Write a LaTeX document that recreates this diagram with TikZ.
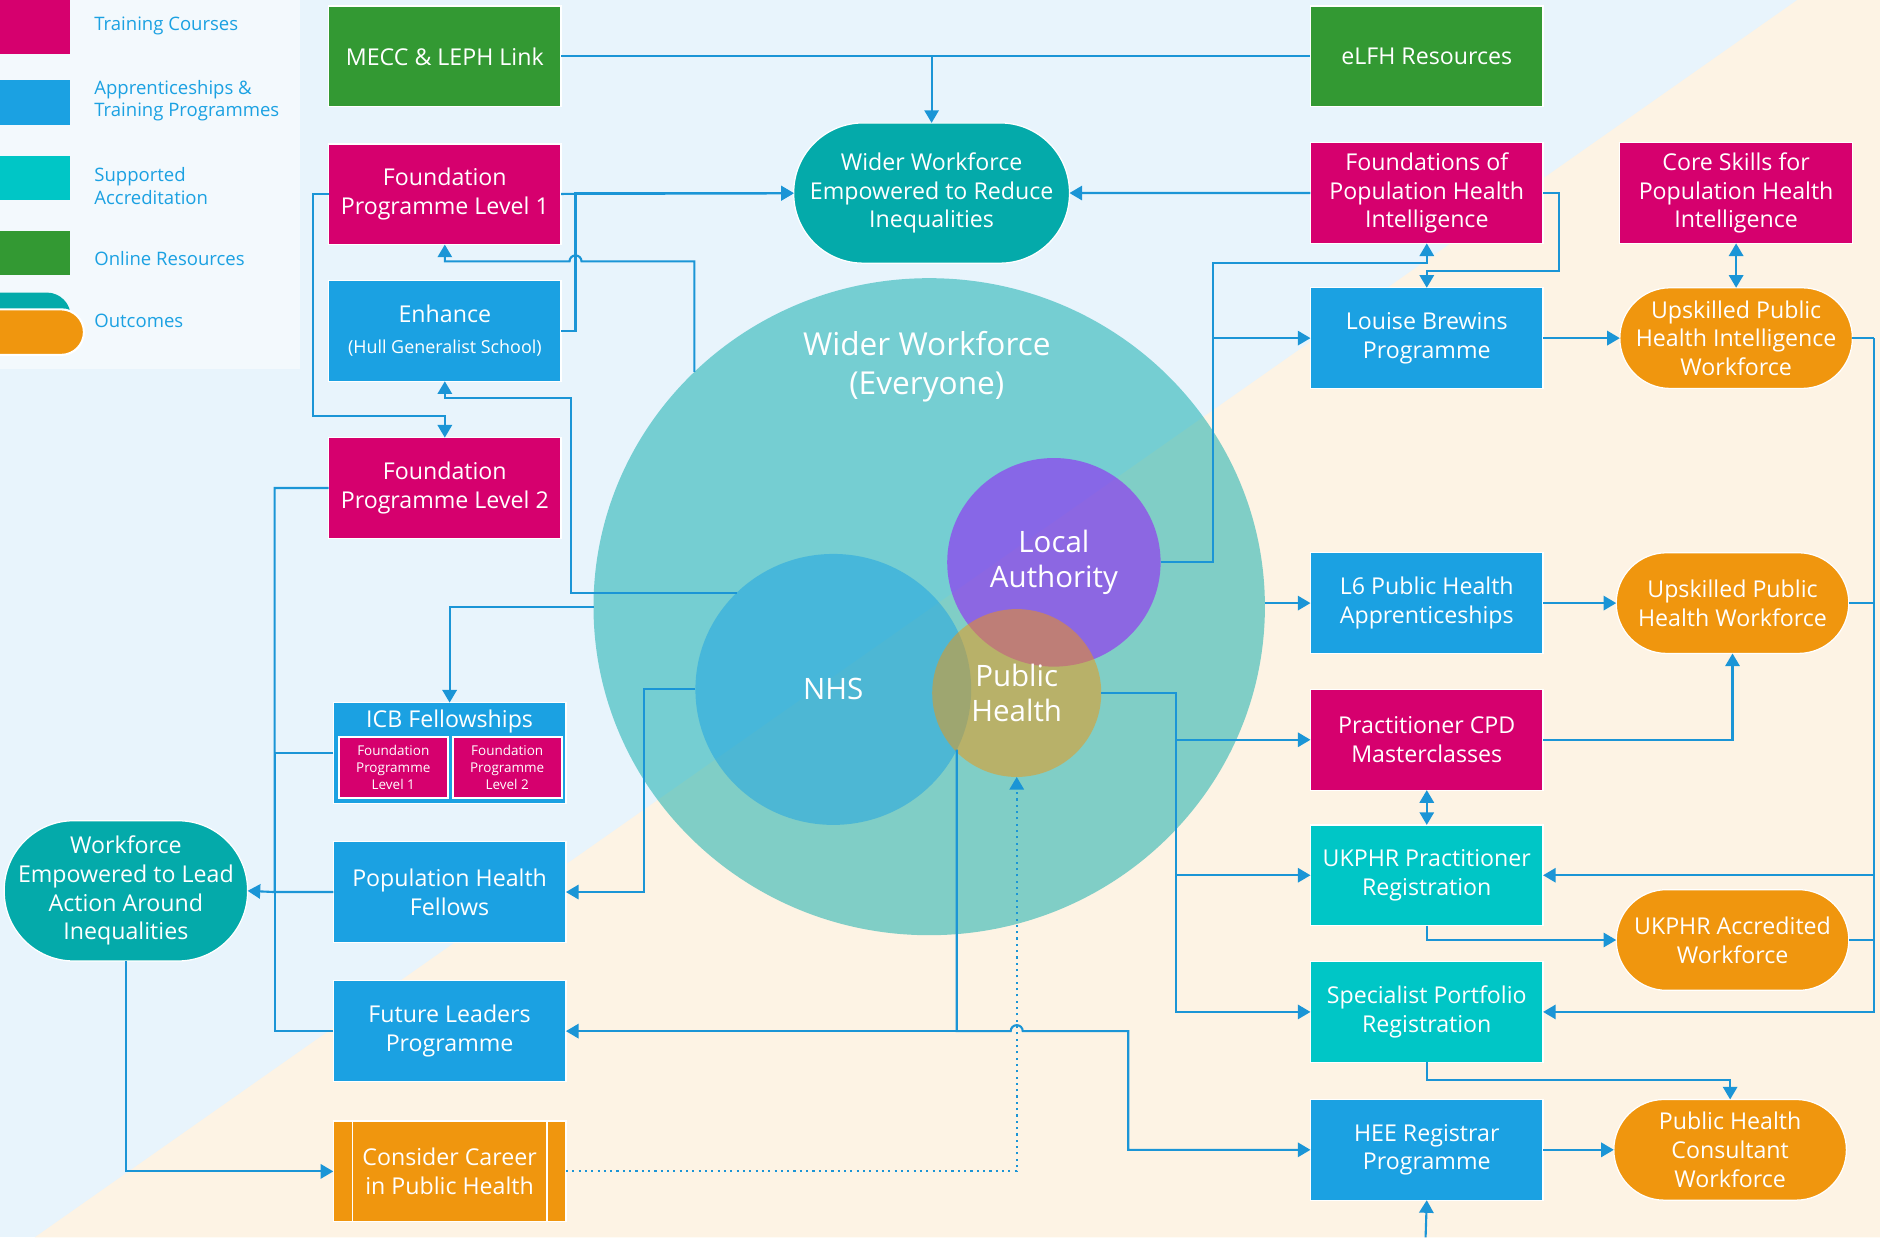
\documentclass[tikz,border=0pt]{standalone}
\usepackage{fontspec}
\setmainfont{Open Sans}
\usepackage{tikz}
\usetikzlibrary{positioning,shapes.geometric,arrows.meta,calc}
\definecolor{coursemag}{HTML}{D6006E}
\definecolor{progblue}{HTML}{1BA1E2}
\definecolor{accredcyan}{HTML}{00C6C6}
\definecolor{onlinegreen}{HTML}{339933}
\definecolor{outteal}{HTML}{04AAAA}
\definecolor{outorange}{HTML}{F0960E}
\definecolor{lapurple}{HTML}{9614FA}
\definecolor{linkblue}{HTML}{1B95D6}
\definecolor{bgblue}{HTML}{E8F4FC}
\definecolor{bgcream}{HTML}{FDF3E4}
\definecolor{legendbg}{HTML}{F3F9FD}
\newcommand{\boxfont}{\fontsize{5.5}{6.8}\selectfont}
\newcommand{\subfont}{\fontsize{4.25}{6}\selectfont}
\newcommand{\minifont}{\fontsize{3.2}{4}\selectfont}
\newcommand{\sectorfont}{\fontsize{7}{8.2}\selectfont}
\newcommand{\titlefont}{\fontsize{7.5}{9.4}\selectfont}
\newcommand{\legendfont}{\fontsize{4.4}{5.4}\selectfont}

\begin{document}
\begin{tikzpicture}[x=0.1mm,y=-0.1mm,>={Triangle[length=3pt,width=3.4pt]},
			flowbox/.style={minimum width=19.4mm,minimum height=8.4mm,inner sep=0pt,outer sep=0pt,draw=white,line width=0.3pt,text=white,align=center,font=\boxfont},
			course/.style={flowbox,fill=coursemag},
			prog/.style={flowbox,fill=progblue},
			accred/.style={flowbox,fill=accredcyan},
			online/.style={flowbox,fill=onlinegreen},
			process/.style={flowbox,fill=outorange},
			outcome/.style={flowbox,fill=outorange,rounded corners=4.2mm},
			mini/.style={course,minimum width=9.1mm,minimum height=5.1mm,line width=0.5pt,font=\minifont},
			sector/.style={ellipse,inner sep=0pt,outer sep=0pt,fill opacity=0.5,text opacity=1,text=white,align=center,font=\sectorfont},
			legendtext/.style={anchor=west,align=left,inner sep=0pt,text=progblue,font=\legendfont},
			link/.style={draw=linkblue,line width=0.5pt}]
			\useasboundingbox (0,0) rectangle (1568,1032);
			\fill[bgblue] (0,0) rectangle (1568,1032);
			\fill[bgcream] (1499,0) -- (1568,0) -- (1568,1032) -- (29,1032) -- cycle;
			\fill[legendbg] (0,0) rectangle (250,308);
			\fill[coursemag] (0,0) rectangle (58,45);
			\fill[progblue] (0,67) rectangle (58,104);
			\fill[accredcyan] (0,130) rectangle (58,167);
			\fill[onlinegreen] (0,193) rectangle (58,229);
			\fill[outteal,rounded corners=2mm] (-30,244) rectangle (59,284);
			\filldraw[fill=outorange,draw=white,line width=0.5pt,rounded corners=1.9mm] (-30,258) rectangle (70,296);
			\node[legendtext] (lgcourse) at (78,22) {Training Courses};
			\node[legendtext] (lgprog) at (78,84) {Apprenticeships \&\\Training Programmes};
			\node[legendtext] (lgaccred) at (78,155) {Supported\\Accreditation};
			\node[legendtext] (lgonline) at (78,216) {Online Resources};
			\node[legendtext] (lgoutcome) at (78,268) {Outcomes};
			\node[sector,fill=outteal,minimum width=56mm,minimum height=54.8mm] (wider) at (775,506) {};
			\node[sector,fill=progblue,minimum width=23mm,minimum height=22.6mm] (nhs) at (695,575) {NHS};
			\node[sector,fill=lapurple,fill opacity=0.55,minimum width=17.8mm,minimum height=17.4mm] (la) at (879,469) {Local\\Authority};
			\node[sector,fill=outorange,minimum width=14.1mm,minimum height=14mm] (ph) at (848,578) {Public\\Health};
			\node[text=white,align=center,font=\titlefont] (widertitle) at (773,306) {Wider Workforce\\(Everyone)};
			\node[online] (mecc) at (371,47) {MECC \& LEPH Link};
			\node[course,below=3.1mm of mecc] (fp1) {Foundation\\Programme Level 1};
			\node[prog,below=3mm of fp1] (enh) {Enhance\\[0.6pt]{\subfont (Hull Generalist School)}};
			\node[course,below=4.7mm of enh] (fp2) {Foundation\\Programme Level 2};
			\node[outcome,fill=outteal,rounded corners=5.8mm,minimum width=23mm,minimum height=11.7mm] (reduce) at (777,161) {Wider Workforce\\Empowered to Reduce\\Inequalities};
			\node[prog,label={[text=white,font=\boxfont,anchor=north,inner sep=0.5mm]north:ICB Fellowships}] (icb) at (375,628) {};
			\node[mini] (icbf1) at ($(icb)+(-47,12)$) {Foundation\\Programme\\Level 1};
			\node[mini] (icbf2) at ($(icb)+(48,12)$) {Foundation\\Programme\\Level 2};
			\node[prog,below=3.2mm of icb] (phf) {Population Health\\Fellows};
			\node[prog,below=3.2mm of phf] (flp) {Future Leaders\\Programme};
			\node[process,below=3.3mm of flp] (career) {Consider Career\\in Public Health};
			\draw[white,line width=0.4pt] ([xshift=1.6mm]career.north west) -- ([xshift=1.6mm]career.south west);
			\draw[white,line width=0.4pt] ([xshift=-1.6mm]career.north east) -- ([xshift=-1.6mm]career.south east);
			\node[outcome,fill=outteal,rounded corners=5.8mm,minimum width=20.3mm,minimum height=11.7mm] (lead) at (105,743) {Workforce\\Empowered to Lead\\Action Around\\Inequalities};
			\node[online] (elfh) at (1190,47) {eLFH Resources};
			\node[course,below=3mm of elfh] (fphi) {Foundations of\\Population Health\\Intelligence};
			\node[prog,below=3.7mm of fphi] (lbp) {Louise Brewins\\Programme};
			\node[course,right=6.4mm of fphi] (core) {Core Skills for\\Population Health\\Intelligence};
			\node[outcome,below=3.7mm of core] (upi) {Upskilled Public\\Health Intelligence\\Workforce};
			\node[prog] (l6) at (1190,503) {L6 Public Health\\Apprenticeships};
			\node[outcome,right=6.1mm of l6] (uph) {Upskilled Public\\Health Workforce};
			\node[course,below=3mm of l6] (cpd) {Practitioner CPD\\Masterclasses};
			\node[accred,below=2.9mm of cpd] (ukp) {UKPHR Practitioner\\Registration};
			\node[outcome] (ukacc) at (1445,784) {UKPHR Accredited\\Workforce};
			\node[accred,below=3mm of ukp] (spr) {Specialist Portfolio\\Registration};
			\node[prog,below=3.1mm of spr] (hee) {HEE Registrar\\Programme};
			\node[outcome,right=5.9mm of hee] (phc) {Public Health\\Consultant\\Workforce};
			\coordinate (lbus) at (229,744);
			\coordinate (rbus) at ($(upi.east)+(18,0)$);
			\coordinate (heein) at (1189,1032);
			\draw[link] (mecc) -- (elfh);
			\draw[link,->] (mecc -| reduce) -- (reduce);
			\draw[link,->] (fp1) -- (reduce);
			\draw[link,->] (enh.east) -- ++(12,0) |- (reduce.west);
			\draw[link,->] (fphi) -- (reduce);
			\draw[link,->] (fp1.west) -- ++(-13,0) |- ($(fp2.north)+(0,-18)$) -- (fp2.north);
			\draw[link,->] (wider.135) |- (485,218) arc[start angle=0,end angle=-180,radius=5] -| (fp1.south);
			\draw[link,->] (nhs.135) -| (476,332) -| (enh.south);
			\draw[link,->] (fp2.west) -| (lbus) -- (lead.east);
			\draw[link] (icb.west) -| (lbus);
			\draw[link] (phf.west) -- (lbus);
			\draw[link] (flp.west) -| (lbus);
			\draw[link,->] (nhs.west) -- ++(-43,0) |- (phf.east);
			\draw[link,->] (wider.west) -| (icb.north);
			\draw[link,->] (nhs.-26) |- (flp.east);
			\draw[link,->] (nhs.-26) |- (843,860) arc[start angle=180,end angle=360,radius=5] -| (941,959) -- (hee.west);
			\draw[link,densely dotted,->] (career.east) -| (ph.south);
			\draw[link,->] (lead.south) |- (career.west);
			\draw[link,->] (ph.east) -- ++(62,0) |- (cpd.west);
			\draw[link,->] (ph.east) -- ++(62,0) |- (ukp.west);
			\draw[link,->] (ph.east) -- ++(62,0) |- (spr.west);
			\draw[link,->] (wider.east |- l6) -- (l6.west);
			\draw[link,->] (la.east) -- ++(44,0) |- (lbp.west);
			\draw[link,->] (la.east) -- ++(44,0) |- ($(fphi.south)+(0,16)$) -- (fphi.south);
			\draw[link,->] (fphi.east) -- ++(13,0) |- ($(lbp.north)+(0,-14)$) -- (lbp.north);
			\draw[link,<->] (core) -- (upi);
			\draw[link,->] (lbp) -- (upi);
			\draw[link] (upi.east) -- (rbus);
			\draw[link,->] (rbus) |- (ukp.east);
			\draw[link,->] (rbus) |- (spr.east);
			\draw[link] (uph.east) -- (uph.east -| rbus);
			\draw[link] (ukacc.east) -- (ukacc.east -| rbus);
			\draw[link,->] (l6) -- (uph);
			\draw[link,->] (cpd.east) -| (uph.south);
			\draw[link,<->] (cpd) -- (ukp);
			\draw[link,->] (ukp.south) |- (ukacc.west);
			\draw[link,->] (spr.south) -- ++(0,15) -| (phc.north);
			\draw[link,->] (hee) -- (phc);
			\draw[link,->] (heein) -- (hee.south);
		\end{tikzpicture}
\end{document}
